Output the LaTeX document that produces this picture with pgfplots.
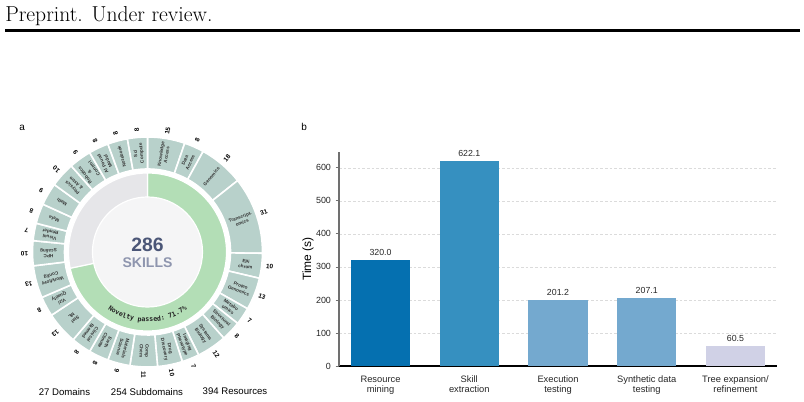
\documentclass[border=0pt]{standalone}
\usepackage{fontspec}
\newfontfamily\arial{Liberation Sans}
\newfontfamily\mono{DejaVu Sans Mono}
\usepackage{pgfplots}
\pgfplotsset{compat=1.18}
\usetikzlibrary{decorations.text}
\definecolor{seg}{HTML}{B8D1CB}
\definecolor{nov}{HTML}{B3DEB6}
\definecolor{ring}{HTML}{E6E6E9}
\definecolor{core}{HTML}{F5F5F6}
\definecolor{numc}{HTML}{4B5677}
\definecolor{skc}{HTML}{8E95AE}
\definecolor{c1}{HTML}{0570B0}
\definecolor{c2}{HTML}{3690C0}
\definecolor{c3}{HTML}{74A9CF}
\definecolor{c4}{HTML}{D0D1E6}
\definecolor{spine}{HTML}{707070}
\newcommand\segfont{\arial\bfseries\fontsize{3.5}{4.3}\selectfont}
\newcommand\numfont{\arial\bfseries\fontsize{4.8}{5}\selectfont}
\begin{document}
\begin{tikzpicture}[x=0.75pt,y=0.75pt]
\path[use as bounding box] (0,0) rectangle (804,402);
% header
\node[anchor=base west, inner sep=0pt, font=\fontsize{16.2}{19}\selectfont] at (5,380) {Preprint. Under review.};
\draw[line width=2.6pt] (5,371.5) -- (800,371.5);
\node[anchor=base west, inner sep=0pt, font=\arial\fontsize{7.5}{9}\selectfont] at (19,271) {a};
\node[anchor=base west, inner sep=0pt, font=\arial\fontsize{7.5}{9}\selectfont] at (301,271) {b};

% ---------------- donut (panel a) ----------------
\begin{axis}[at={(110.625pt,112.5pt)}, anchor=center, scale only axis, width=195pt, height=195pt,
  xmin=-130, xmax=130, ymin=-130, ymax=130, hide axis, clip=false]
\pgfplotsextra{%
  \fill[core] (axis cs:0,0) circle[radius=41.25pt];
  \pgfmathsetmacro\ga{90-71.7*3.6}%
  \pgfmathsetmacro\gix{55*cos(\ga)}\pgfmathsetmacro\giy{55*sin(\ga)}%
  \pgfmathsetmacro\gox{79*cos(\ga)}\pgfmathsetmacro\goy{79*sin(\ga)}%
  \fill[nov, draw=white, line width=0.9pt] (axis cs:0,55) arc[start angle=90, end angle=\ga, radius=41.25pt]
     -- (axis cs:\gox,\goy) arc[start angle=\ga, end angle=90, radius=59.25pt] -- cycle;
  \fill[ring, draw=white, line width=0.9pt] (axis cs:\gix,\giy) arc[start angle=\ga, end angle=-270, radius=41.25pt]
     -- (axis cs:0,79) arc[start angle=-270, end angle=\ga, radius=59.25pt] -- cycle;
  \path[decorate, decoration={text along path, text align=center,
      text={|\mono\bfseries\fontsize{5}{6}\selectfont\color{black!85}|Novelty passed: 71.7{\%}}}]
     (axis cs:-49.497,-49.497) arc[start angle=225, end angle=315, radius=52.5pt];
  \node[font=\arial\bfseries\fontsize{14.5}{16}\selectfont, text=numc] at (axis cs:0,7) {286};
  \node[font=\arial\bfseries\fontsize{10.5}{12}\selectfont, text=skc] at (axis cs:0,-11) {SKILLS};
  \gdef\cum{0}%
  \foreach \val/\lab in {15/{Knowledge\\Access}, 8/{Data\\Access}, 18/{Genomics}, 31/{Transcript-\\omics},
     10/{Epi\\chrom}, 13/{Proteo\\Genomics}, 7/{Metabo\\omics}, 8/{Structural\\Biology},
     12/{Systems\\Biology}, 7/{Imaging\\Phenotype}, 10/{Drug\\Discovery}, 11/{Comp\\Chem},
     9/{Materials\\Science}, 8/{Earth\\Climate}, 8/{Clinical\\Biomed}, 13/{Stat\\ML},
     8/{Viz/\\Quality}, 13/{Workflow/\\Config}, 10/{HPC\\Scaling}, 7/{Visual\\Render},
     8/{Meta}, 9/{Math}, 10/{Physics\\\& Astro}, 9/{Robotics\\\&\\Control},
     8/{AI Found\\Model}, 8/{Notebook}, 8/{Sci\\Compute}}{%
    \pgfmathsetmacro\sa{90-\cum/286*360}%
    \pgfmathsetmacro\sb{90-(\cum+\val)/286*360}%
    \pgfmathsetmacro\sm{(\sa+\sb)/2}%
    \pgfmathsetmacro\ax{83*cos(\sa)}\pgfmathsetmacro\ay{83*sin(\sa)}%
    \pgfmathsetmacro\bx{115*cos(\sb)}\pgfmathsetmacro\by{115*sin(\sb)}%
    \pgfmathsetmacro\lx{99*cos(\sm)}\pgfmathsetmacro\ly{99*sin(\sm)}%
    \pgfmathsetmacro\nx{123*cos(\sm)}\pgfmathsetmacro\ny{123*sin(\sm)}%
    \fill[seg, draw=white, line width=1.2pt] (axis cs:\ax,\ay) arc[start angle=\sa, end angle=\sb, radius=62.25pt]
       -- (axis cs:\bx,\by) arc[start angle=\sb, end angle=\sa, radius=86.25pt] -- cycle;
    \node[rotate=\sm, font=\segfont, align=center, text=black!80, inner sep=0pt] at (axis cs:\lx,\ly) {\lab};
    \node[rotate=\sm, font=\numfont, text=black, inner sep=0pt] at (axis cs:\nx,\ny) {\val};
    \pgfmathsetmacro\nc{\cum+\val}\xdef\cum{\nc}%
  }
}
\end{axis}
\node[font=\arial\fontsize{7.2}{9}\selectfont] at (64.5,10.3) {27 Domains};
\node[font=\arial\fontsize{7.2}{9}\selectfont] at (147,10.3) {254 Subdomains};
\node[font=\arial\fontsize{7.2}{9}\selectfont] at (235,10.3) {394 Resources};

% ---------------- bars (panel b) ----------------
\begin{axis}[at={(254.25pt,27pt)}, anchor=south west, scale only axis, width=328.5pt, height=160.5pt,
  xmin=-0.468, xmax=4.468, ymin=0, ymax=648, clip=false,
  ybar, bar width=0.665,
  axis x line*=bottom, axis y line*=left,
  x axis line style={black, line width=0.8pt},
  y axis line style={spine, line width=1.1pt},
  xtick={0,1,2,3,4},
  xticklabels={{Resource\\mining},{Skill\\extraction},{Execution\\testing},{Synthetic data\\testing},{Tree expansion/\\refinement}},
  xtick style={draw=none},
  ytick={0,100,200,300,400,500,600},
  ytick style={draw=spine, line width=0.6pt},
  tick align=outside, major tick length=2.5pt,
  /pgf/number format/assume math mode=true,
  tick label style={font=\arial\fontsize{6.7}{7.6}\selectfont, text=black!85},
  xticklabel style={align=center, font=\arial\fontsize{7}{7.6}\selectfont, yshift=-1.5pt},
  ymajorgrids, grid style={dash pattern=on 2pt off 1.5pt, color=black!14, line width=0.4pt},
  ylabel={Time (s)},
  every axis y label/.style={at={(axis description cs:-0.071,0.5)}, rotate=90, anchor=center,
     font=\arial\fontsize{9}{10}\selectfont},
  nodes near coords={\pgfmathprintnumber[fixed,fixed zerofill,precision=1]{\pgfplotspointmeta}},
  nodes near coords style={font=\arial\fontsize{6.6}{8}\selectfont, text=black!85, inner sep=1pt, yshift=2pt},
]
\addplot[fill=c1, draw=none, bar shift=0pt] coordinates {(0,320.0)};
\addplot[fill=c2, draw=none, bar shift=0pt] coordinates {(1,622.1)};
\addplot[fill=c3, draw=none, bar shift=0pt] coordinates {(2,201.2)};
\addplot[fill=c3, draw=none, bar shift=0pt] coordinates {(3,207.1)};
\addplot[fill=c4, draw=none, bar shift=0pt] coordinates {(4,60.5)};
\end{axis}
\end{tikzpicture}
\end{document}
